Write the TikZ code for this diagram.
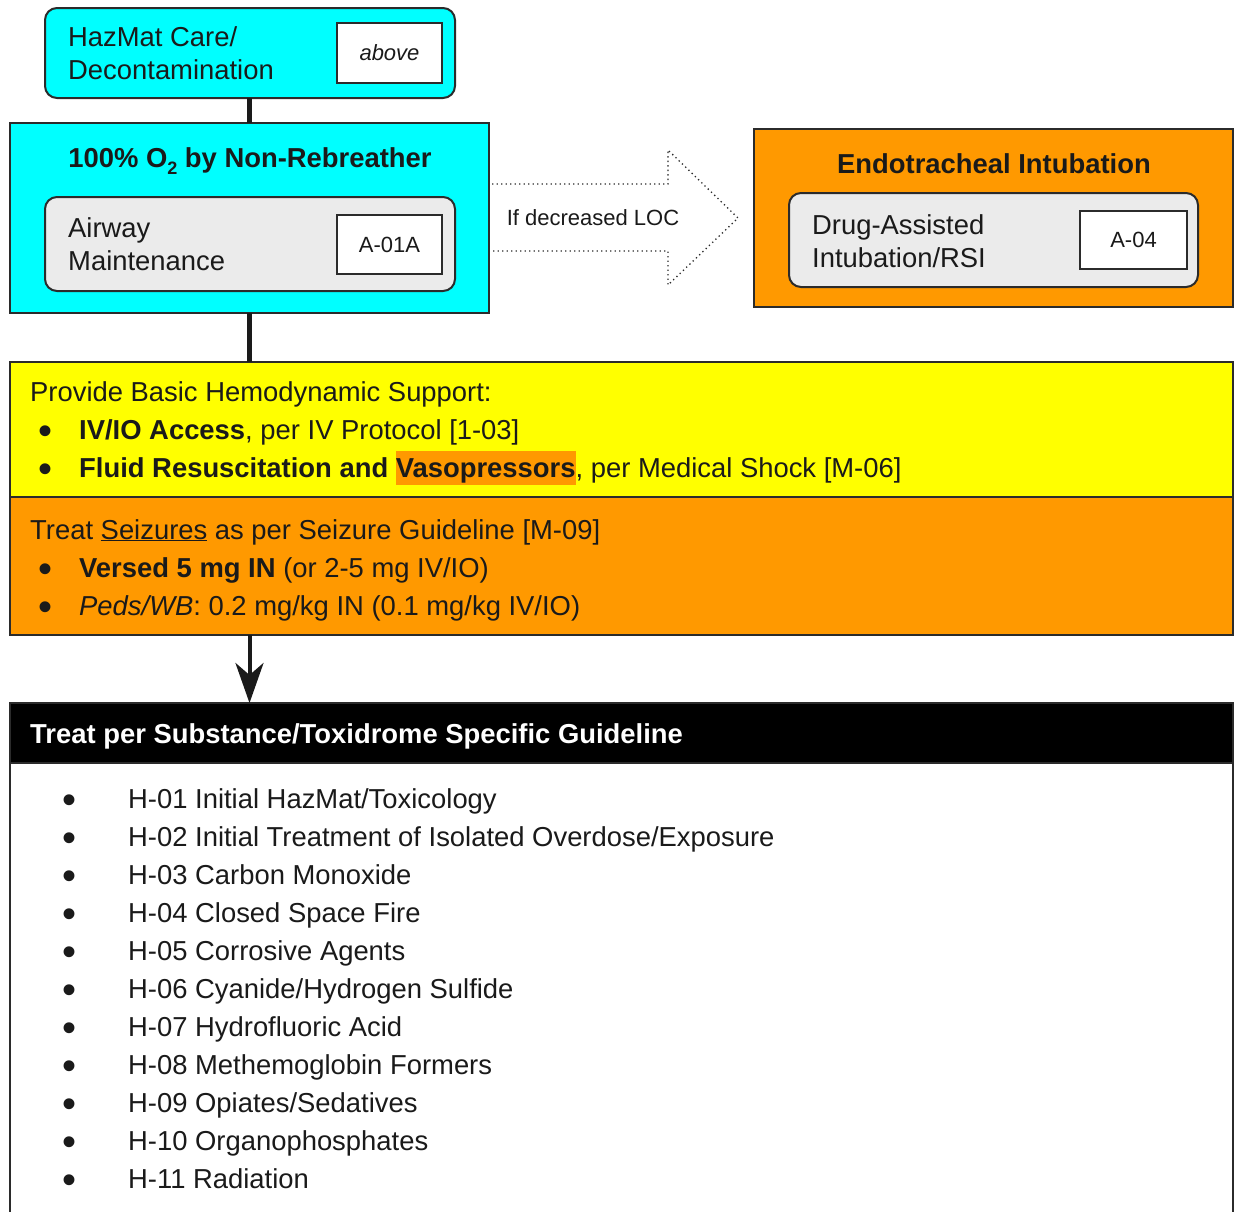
\documentclass[tikz,border=0pt]{standalone}
\usepackage{fontspec}
\setmainfont{Liberation Sans}
\usetikzlibrary{arrows.meta,calc}
\definecolor{cyanbox}{HTML}{00FFFF}
\definecolor{orangebox}{HTML}{FF9900}
\definecolor{yellowbox}{HTML}{FFFF00}
\definecolor{graybox}{HTML}{EBEBEB}
\definecolor{edge}{HTML}{2B2B2B}
\definecolor{ink}{HTML}{1A1A1A}
\newcommand{\myfs}[1]{\fontsize{#1}{#1}\selectfont}
\begin{document}
\begin{tikzpicture}[x=1pt,y=-1pt,
  box/.style 2 args={minimum width=#1, minimum height=#2, anchor=north west, inner sep=0pt, outer sep=0pt},
  panel/.style={draw=edge, line width=1.5pt},
  roundpanel/.style={draw=edge, line width=2pt, rounded corners=12pt},
  refbox/.style={draw=edge, line width=1.5pt, fill=white, font=\myfs{22}, text=ink},
  txt/.style={anchor=base west, inner sep=0pt, font=\myfs{27.4}, text=ink},
  ttl/.style={anchor=base, inner sep=0pt, font=\myfs{27.4}\bfseries, text=ink},
  bul/.style={anchor=base, inner sep=0pt, font=\myfs{40}, text=ink, yshift=-5pt},
  conn/.style={draw=ink, line width=5pt},
  locarrow/.style={draw=edge, line width=1.3pt, dash pattern=on 1.3pt off 3.2pt},
]
\clip (0,0) rectangle (1235,1211);
\fill[white] (0,0) rectangle (1235,1211);

% ---------- HazMat ----------
\node[box={410}{90}, roundpanel, fill=cyanbox] (hazmat) at (45,8) {};
\node[box={105}{60}, refbox] (above) at (337,23) {\itshape above};
\node[txt] (hz1) at (68,46) {HazMat Care/};
\node[txt] (hz2) at (68,79) {Decontamination};

% ---------- O2 ----------
\node[box={479}{190}, panel, fill=cyanbox] (o2) at (10,123) {};
\node[ttl] (o2t) at (250,167) {100\% O\raisebox{-7pt}{\myfs{18}\bfseries 2} by Non-Rebreather};
\node[box={410}{94}, roundpanel, fill=graybox] (airway) at (45,197) {};
\node[box={105}{59}, refbox] (a01a) at (337,215) {A-01A};
\node[txt] (aw1) at (68,237) {Airway};
\node[txt] (aw2) at (68,270) {Maintenance};

% ---------- Endotracheal ----------
\node[box={479}{178}, panel, fill=orangebox] (endo) at (754,129) {};
\node[ttl] (endot) at (994,173) {Endotracheal Intubation};
\node[box={409}{94}, roundpanel, fill=graybox] (drug) at (789,193) {};
\node[box={107}{58}, refbox] (a04) at (1080,211) {A-04};
\node[txt] (dr1) at (812,234) {Drug-Assisted};
\node[txt] (dr2) at (812,267) {Intubation/RSI};

% ---------- dotted block arrow ----------
\draw[locarrow] ($(o2.east)+(3,-34)$) -- ($(o2.east)+(179,-34)$) -- ($(o2.east)+(179,-68)$)
  -- ($(o2.east)+(249,0)$) -- ($(o2.east)+(179,67)$) -- ($(o2.east)+(179,33)$) -- ($(o2.east)+(3,33)$);
\node[anchor=base, inner sep=0pt, font=\myfs{22}, text=ink] (loc) at (593,225) {If decreased LOC};

% ---------- Yellow ----------
\node[box={1223}{135}, panel, fill=yellowbox] (yellow) at (10,362) {};
\node[txt] (y1) at (30,401) {Provide Basic Hemodynamic Support:};
\node[bul] (yb1) at (46,439) {•};
\node[txt] (y2) at (79,439) {\textbf{IV/IO Access}, per IV Protocol [1-03]};
\node[bul] (yb2) at (46,477) {•};
\node[txt] (y3) at (79,477) {\textbf{Fluid Resuscitation and }{\setlength{\fboxsep}{0pt}\colorbox{orangebox}{\rule[-8pt]{0pt}{34pt}\textbf{Vasopressors}}}, per Medical Shock [M-06]};

% ---------- Orange ----------
\node[box={1223}{138}, panel, fill=orangebox] (orange) at (10,497) {};
\node[txt] (o1) at (30,539) {Treat \underline{Seizures} as per Seizure Guideline [M-09]};
\node[bul] (ob1) at (46,577) {•};
\node[txt] (o2l) at (79,577) {\textbf{Versed 5 mg IN} (or 2-5 mg IV/IO)};
\node[bul] (ob2) at (46,615) {•};
\node[txt] (o3l) at (79,615) {\textit{Peds/WB}: 0.2 mg/kg IN (0.1 mg/kg IV/IO)};

% ---------- List ----------
\node[box={1223}{480}, panel, fill=white] (list) at (10,763) {};
\node[box={1223}{60}, panel, fill=black] (hdr) at (10,703) {};
\node[anchor=base west, inner sep=0pt, font=\myfs{27.4}\bfseries, text=white] (hdrt) at (30,743) {Treat per Substance/Toxidrome Specific Guideline};

\foreach \i/\t [count=\k from 0] in {
  01/{H-01 Initial HazMat/Toxicology},
  02/{H-02 Initial Treatment of Isolated Overdose/Exposure},
  03/{H-03 Carbon Monoxide},
  04/{H-04 Closed Space Fire},
  05/{H-05 Corrosive Agents},
  06/{H-06 Cyanide/Hydrogen Sulfide},
  07/{H-07 Hydrofluoric Acid},
  08/{H-08 Methemoglobin Formers},
  09/{H-09 Opiates/Sedatives},
  10/{H-10 Organophosphates},
  11/{H-11 Radiation}} {
  \node[bul] (lb\i) at (70,808+38*\k) {•};
  \node[txt] (li\i) at (128,808+38*\k) {\t};
}

% ---------- connectors ----------
\draw[conn] (hazmat.south -| o2.south) -- (o2.north);
\draw[conn] (o2.south) -- (yellow.north -| o2.south);
\draw[conn, line width=4pt, -{Stealth[length=40pt,width=28pt,inset=12pt]}] (orange.south -| o2.south) -- (hdr.north -| o2.south);
\end{tikzpicture}
\end{document}
